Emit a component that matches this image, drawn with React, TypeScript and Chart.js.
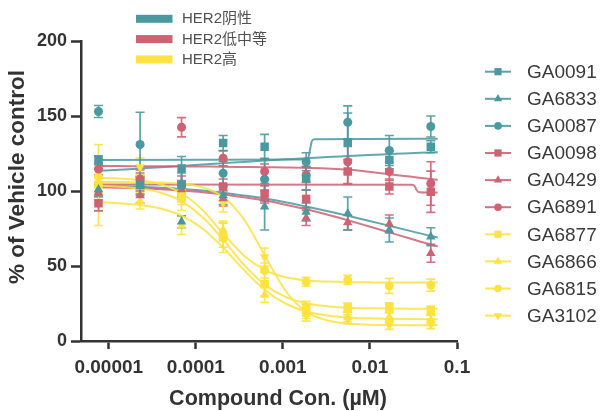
import React, { useEffect, useRef } from "react";
import { Chart, registerables } from "chart.js";
Chart.register(...registerables);

// ---- data ----
const CONC = [7.62e-6, 2.29e-5, 6.86e-5, 2.06e-4, 6.17e-4, 1.85e-3, 5.56e-3, 1.67e-2, 5.0e-2];
const CURVE_CONC = [7.62e-6, 1.32e-5, 2.29e-5, 3.96e-5, 6.86e-5, 1.19e-4, 2.06e-4, 3.56e-4, 6.17e-4, 1.07e-3, 1.85e-3, 3.21e-3, 5.56e-3, 9.62e-3, 1.67e-2, 2.89e-2, 5.0e-2, 6.0e-2];
const X_TICKS = [0.00001, 0.0001, 0.001, 0.01, 0.1];
const X_TICK_LABELS = ["0.00001", "0.0001", "0.001", "0.01", "0.1"];
const Y_TICKS = [0, 50, 100, 150, 200];
const X_TITLE = "Compound Con. (µM)";
const Y_TITLE = "% of Vehicle control";
const GROUP_NAMES = ["HER2阴性", "HER2低中等", "HER2高"];

const GA0091_Y = [120.5, 104, 115, 132, 129.5, 108.5, 132, 120.7, 129.5];
const GA0091_ERR = [3, 6, 8, 5, 8.3, 8, 20, 6, 4];
const GA6833_Y = [101, 103, 79.5, 97, 89.5, 86, 85, 74, 69.5];
const GA6833_ERR = [5, 6, 4, 6, 15.5, 6, 11, 8, 6];
const GA0087_Y = [153, 131, 104, 111.8, 107.8, 119.5, 145.8, 127, 143];
const GA0087_ERR = [4, 21.5, 8, 8, 14, 6, 11, 10, 7];
const GA0098_Y = [91.8, 106, 104, 103, 98.4, 94.7, 113, 103, 99.5];
const GA0098_ERR = [5, 6, 6, 5, 5, 6, 8, 5, 13.7];
const GA0429_Y = [99, 97, 101, 95, 96, 82, 79, 78, 58.5];
const GA0429_ERR = [5, 5, 5, 5, 4, 5, 5, 6, 6];
const GA6891_Y = [114.7, 108, 142.5, 121.8, 113, 110.7, 119.5, 113, 105];
const GA6891_ERR = [4, 6, 6.4, 5, 5, 5, 15, 6, 14.5];
const GA6877_Y = [104, 108, 95, 69, 38, 22.4, 22.2, 22.4, 20.2];
const GA6877_ERR = [5, 8, 8, 10, 8, 4, 3, 3, 3];
const GA6866_Y = [93, 93, 77, 74, 30.7, 18, 16, 15.8, 14];
const GA6866_ERR = [6, 5, 6, 6, 5, 3, 3, 3, 3];
const GA6815_Y = [109.5, 105, 100, 70.5, 47, 39.5, 40.7, 36.7, 37.3];
const GA6815_ERR = [5, 6, 6, 8, 5, 3, 3, 5, 4];
const GA3102_Y = [104, 116, 97, 92, 56, 17.3, 14.5, 10.7, 11.3];
const GA3102_ERR = [27, 6, 6, 6, 6, 4, 3, 3, 3];

// fitted curves
const GA0091_FIT_X = [7.62e-6, 1.85e-3, 1.95e-3, 2.05e-3, 2.15e-3, 2.3e-3, 6.0e-2];
const GA0091_FIT = [120.6, 121.0, 121.8, 127.5, 133.2, 134.5, 134.8];
const GA0098_FIT_X = [7.62e-6, 3.05e-2, 3.25e-2, 3.45e-2, 3.65e-2, 6.0e-2];
const GA0098_FIT = [104.4, 104.2, 103.4, 100.5, 99.2, 99.0];
const GA0087_FIT = [113.5, 114.2, 115.0, 115.8, 116.7, 117.6, 118.5, 119.4, 120.3, 121.1, 121.9, 122.6, 123.3, 124.0, 124.6, 125.2, 125.7, 125.9];
const GA6833_FIT = [103.5, 103.2, 102.8, 102.2, 101.4, 100.3, 98.8, 97.0, 95.0, 92.5, 89.7, 86.7, 83.5, 80.2, 76.8, 73.4, 70.0, 69.0];
const GA0429_FIT = [102.5, 102.2, 101.8, 101.2, 100.3, 99.2, 97.7, 95.8, 93.6, 90.9, 87.8, 84.3, 80.5, 76.5, 72.4, 68.3, 64.3, 63.2];
const GA6891_FIT = [116.6, 116.6, 116.5, 116.5, 116.4, 116.3, 116.2, 116.0, 115.8, 115.7, 115.5, 115.0, 114.3, 112.8, 111.2, 109.6, 108.0, 107.4];
const GA6877_FIT = [103.5, 102.9, 101.6, 98.8, 93.1, 82.7, 67.5, 50.9, 37.6, 29.4, 25.2, 23.2, 22.2, 21.8, 21.6, 21.5, 21.5, 21.5];
const GA6866_FIT = [92.5, 91.9, 90.7, 88.3, 83.5, 75.0, 62.3, 47.4, 34.2, 25.0, 19.7, 17.0, 15.7, 15.1, 14.8, 14.6, 14.5, 14.5];
const GA6815_FIT = [108.7, 108.3, 107.1, 104.5, 98.5, 87.4, 71.7, 57.0, 47.4, 42.5, 40.4, 39.6, 39.2, 39.1, 39.0, 39.0, 39.0, 39.0];
const GA3102_FIT = [106.0, 106.0, 105.9, 105.6, 104.8, 102.4, 96.0, 81.3, 57.2, 33.5, 19.6, 13.8, 11.6, 10.9, 10.6, 10.5, 10.5, 10.5];

const GROUP_COLORS = ["rgb(74,152,160)", "rgb(206,98,115)", "rgb(253,226,64)"];
const FONT = "'Liberation Sans', Arial, 'Noto Sans CJK SC', sans-serif";

type S = { name: string; group: number; style: string; rot: number; r: number; y: number[]; err: number[]; fitX: number[]; fit: number[] };
const SERIES: S[] = [
  { name: "GA0091", group: 0, style: "rect", rot: 0, r: 6, y: GA0091_Y, err: GA0091_ERR, fitX: GA0091_FIT_X, fit: GA0091_FIT },
  { name: "GA6833", group: 0, style: "triangle", rot: 0, r: 5.5, y: GA6833_Y, err: GA6833_ERR, fitX: CURVE_CONC, fit: GA6833_FIT },
  { name: "GA0087", group: 0, style: "circle", rot: 0, r: 4.5, y: GA0087_Y, err: GA0087_ERR, fitX: CURVE_CONC, fit: GA0087_FIT },
  { name: "GA0098", group: 1, style: "rect", rot: 0, r: 6, y: GA0098_Y, err: GA0098_ERR, fitX: GA0098_FIT_X, fit: GA0098_FIT },
  { name: "GA0429", group: 1, style: "triangle", rot: 0, r: 5.5, y: GA0429_Y, err: GA0429_ERR, fitX: CURVE_CONC, fit: GA0429_FIT },
  { name: "GA6891", group: 1, style: "circle", rot: 0, r: 4.5, y: GA6891_Y, err: GA6891_ERR, fitX: CURVE_CONC, fit: GA6891_FIT },
  { name: "GA6877", group: 2, style: "rect", rot: 0, r: 6, y: GA6877_Y, err: GA6877_ERR, fitX: CURVE_CONC, fit: GA6877_FIT },
  { name: "GA6866", group: 2, style: "triangle", rot: 0, r: 5.5, y: GA6866_Y, err: GA6866_ERR, fitX: CURVE_CONC, fit: GA6866_FIT },
  { name: "GA6815", group: 2, style: "circle", rot: 0, r: 4.5, y: GA6815_Y, err: GA6815_ERR, fitX: CURVE_CONC, fit: GA6815_FIT },
  { name: "GA3102", group: 2, style: "triangle", rot: 180, r: 5.5, y: GA3102_Y, err: GA3102_ERR, fitX: CURVE_CONC, fit: GA3102_FIT },
];

function rgba(c: string, a: number) {
  return c.replace("rgb(", "rgba(").replace(")", "," + a + ")");
}

function drawMarker(ctx: CanvasRenderingContext2D, style: string, rot: number, x: number, y: number) {
  ctx.beginPath();
  if (style === "rect") {
    ctx.rect(x - 3.6, y - 3.6, 7.2, 7.2);
  } else if (style === "circle") {
    ctx.arc(x, y, 3.8, 0, Math.PI * 2);
  } else {
    const r = 4.8;
    let a = (rot * Math.PI) / 180;
    for (let k = 0; k < 3; k++) {
      const px = x + Math.sin(a) * r, py = y - Math.cos(a) * r;
      if (k === 0) ctx.moveTo(px, py); else ctx.lineTo(px, py);
      a += (2 * Math.PI) / 3;
    }
    ctx.closePath();
  }
  ctx.fill();
}

const errorBarPlugin = {
  id: "errorBars",
  beforeDatasetsDraw(chart: any) {
    const ctx = chart.ctx;
    const ys = chart.scales.y;
    const list = chart.data.datasets.map((d: any, i: number) => ({ d, i })).filter((o: any) => o.d.err);
    list.sort((a: any, b: any) => b.d.order - a.d.order);
    list.forEach(({ d, i }: any) => {
      const meta = chart.getDatasetMeta(i);
      ctx.save();
      ctx.strokeStyle = d.errColor;
      ctx.lineWidth = 1.7;
      meta.data.forEach((pt: any, j: number) => {
        const v = d.data[j].y, e = d.err[j];
        const top = ys.getPixelForValue(v + e), bot = ys.getPixelForValue(v - e);
        const x = pt.x;
        ctx.beginPath();
        ctx.moveTo(x, top); ctx.lineTo(x, bot);
        ctx.moveTo(x - 4.5, top); ctx.lineTo(x + 4.5, top);
        ctx.moveTo(x - 4.5, bot); ctx.lineTo(x + 4.5, bot);
        ctx.stroke();
      });
      ctx.restore();
    });
  },
};

const decorPlugin = {
  id: "decor",
  afterDraw(chart: any) {
    const ctx = chart.ctx;
    const ca = chart.chartArea;
    ctx.save();
    // group legend (top)
    ctx.font = "15px " + FONT;
    ctx.textBaseline = "middle";
    ctx.textAlign = "left";
    GROUP_NAMES.forEach((g, i) => {
      const cy = 18.8 + i * 20.3;
      ctx.fillStyle = GROUP_COLORS[i];
      ctx.fillRect(136, cy - 4, 36.5, 8);
      ctx.fillStyle = "#505050";
      ctx.fillText(g, 182, cy + 0.5);
    });
    // series legend (right)
    ctx.font = "19px " + FONT;
    SERIES.forEach((s, i) => {
      const cy = 71.7 + i * 27.1;
      const c = GROUP_COLORS[s.group];
      ctx.strokeStyle = rgba(c, 0.9);
      ctx.lineWidth = 2;
      ctx.beginPath();
      ctx.moveTo(485, cy); ctx.lineTo(511, cy);
      ctx.stroke();
      ctx.fillStyle = c;
      drawMarker(ctx, s.style, s.rot, 498, cy);
      ctx.fillStyle = "#3a3a3a";
      ctx.fillText(s.name, 527, cy + 1);
    });
    // axis titles
    ctx.fillStyle = "#333";
    ctx.font = "bold 21.5px " + FONT;
    ctx.textAlign = "center";
    ctx.fillText(X_TITLE, ca.left + (ca.right - ca.left) / 2 + 9, 399);
    ctx.font = "bold 22.5px " + FONT;
    ctx.translate(18, 177);
    ctx.rotate(-Math.PI / 2);
    ctx.fillText(Y_TITLE, 0, 0);
    ctx.restore();
  },
};

export default function App() {
  const ref = useRef<HTMLCanvasElement>(null);
  useEffect(() => {
    document.body.style.margin = "0";
    const canvas = ref.current!;
    const datasets: any[] = [];
    SERIES.forEach((s) => {
      const color = GROUP_COLORS[s.group];
      datasets.push({
        type: "line",
        label: s.name + " fit",
        data: s.fitX.map((x, j) => ({ x, y: s.fit[j] })),
        borderColor: rgba(color, 0.85),
        borderWidth: 2,
        pointRadius: 0,
        cubicInterpolationMode: "monotone",
        fill: false,
        order: 10 + (2 - s.group),
      });
      datasets.push({
        type: "scatter",
        label: s.name,
        data: CONC.map((x, j) => ({ x, y: s.y[j] })),
        err: s.err,
        errColor: rgba(color, 0.9),
        showLine: false,
        pointStyle: s.style,
        rotation: s.rot,
        pointRotation: s.rot,
        pointRadius: s.r,
        pointHoverRadius: s.r,
        backgroundColor: color,
        borderColor: color,
        borderWidth: 0,
        order: s.group,
      });
    });
    const tickFont = { family: FONT, weight: "bold" as const };
    const chart = new Chart(canvas, {
      type: "scatter",
      data: { datasets },
      options: {
        animation: false,
        responsive: false,
        events: [],
        layout: { padding: { left: 0, right: 145, top: 41, bottom: 0 } },
        plugins: { legend: { display: false }, tooltip: { enabled: false } },
        scales: {
          x: {
            type: "logarithmic",
            min: 4.8e-6,
            max: 0.1,
            afterBuildTicks: (s: any) => {
              s.ticks = X_TICKS.map((v) => ({ value: v }));
            },
            afterFit: (s: any) => {
              s.height = 70;
            },
            ticks: {
              autoSkip: false,
              maxRotation: 0,
              padding: 7,
              color: "#333",
              font: { ...tickFont, size: 19 },
              callback: (_v: any, idx: number) => X_TICK_LABELS[idx],
            },
            grid: { drawOnChartArea: false, drawTicks: true, tickLength: 8, tickWidth: 2.5, tickColor: "#333" },
            border: { color: "#333", width: 2.5 },
          },
          y: {
            type: "linear",
            min: 0,
            max: 200,
            afterBuildTicks: (s: any) => {
              s.ticks = Y_TICKS.map((v) => ({ value: v }));
            },
            afterFit: (s: any) => {
              s.width = 81;
            },
            ticks: {
              padding: 4,
              color: "#333",
              font: { ...tickFont, size: 18 },
              callback: (v: any) => String(v),
            },
            grid: { drawOnChartArea: false, drawTicks: true, tickLength: 10, tickWidth: 2.5, tickColor: "#333" },
            border: { color: "#333", width: 2.5 },
          },
        },
      } as any,
      plugins: [errorBarPlugin, decorPlugin],
    });
    return () => chart.destroy();
  }, []);
  return (
    <div style={{ width: 602, height: 411, background: "#fff" }}>
      <canvas ref={ref} width={602} height={411} style={{ display: "block" }} />
    </div>
  );
}
